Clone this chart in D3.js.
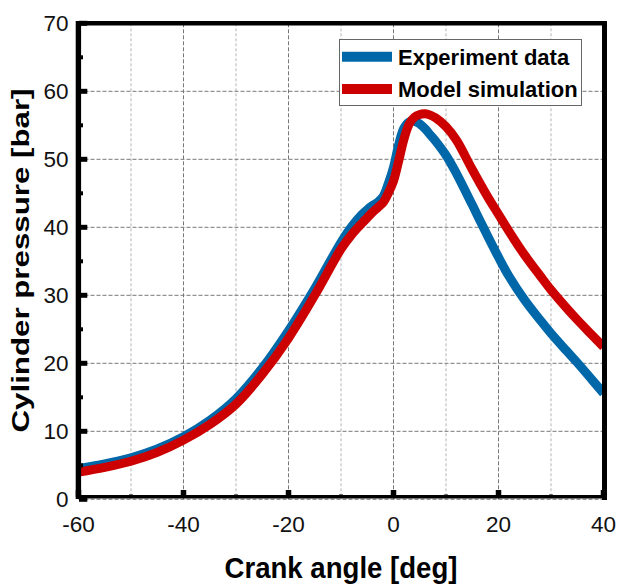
<!DOCTYPE html>
<html>
<head>
<meta charset="utf-8">
<script src="https://cdn.jsdelivr.net/npm/d3@7"></script>
<style>
  body { margin: 0; background: #fff; }
  svg { display: block; font-family: "Liberation Sans", Arial, sans-serif; }
</style>
</head>
<body>
<svg id="chart" width="619" height="584"></svg>
<script>
// crank angle [deg] and pressures [bar]
var crankAngle = [-60, -55, -50, -45, -40, -35, -30, -25, -20, -15, -10, -8, -6, -5, -4, -3, -2, -1,
                  0, 1, 2, 3, 4, 5, 6, 7, 8, 10, 12, 15, 18, 20, 22, 25, 28, 30, 33, 35, 38, 40];
var experimentData = [4.5, 5.2, 6.1, 7.4, 9.2, 11.6, 14.8, 19.3, 24.8, 31.0, 37.8, 40.1, 41.9, 42.6, 43.2, 43.7, 44.5, 46.4,
                      48.8, 52.2, 54.6, 55.5, 55.6, 55.2, 54.5, 53.6, 52.7, 50.6, 47.9, 43.3, 38.6, 35.6, 32.8, 29.3, 26.3, 24.4, 21.8, 20.1, 17.4, 15.6];
var modelSimulation = [4.0, 4.7, 5.6, 6.9, 8.7, 11.0, 14.0, 18.4, 23.7, 30.0, 36.8, 38.9, 40.6, 41.4, 42.2, 42.9, 43.6, 45.0,
                       46.8, 49.8, 53.0, 55.2, 56.2, 56.6, 56.7, 56.5, 56.1, 54.8, 52.8, 48.5, 44.4, 41.9, 39.4, 35.9, 32.8, 30.8, 28.1, 26.4, 24.0, 22.4];

var seriesNames = ["Experiment data", "Model simulation"];
var seriesColors = ["#0067a9", "#cc0000"];

var xMajorTicks = [-60, -40, -20, 0, 20, 40];
var xMinorTicks = [-50, -30, -10, 10, 30];
var yMajorTicks = [0, 10, 20, 30, 40, 50, 60, 70];
var yMinorTicks = [5, 15, 25, 35, 45, 55, 65];

var svg = d3.select("#chart");

var x = d3.scaleLinear().domain([-60, 40]).range([78.5, 603.5]);
var y = d3.scaleLinear().domain([0, 70]).range([499.3, 23.3]);

//grid
var grid = svg.append("g").attr("class", "grid");
grid.selectAll(".vminor")
    .data(xMinorTicks)
    .enter()
    .append("line")
    .attr("x1", function(d){ return x(d); })
    .attr("x2", function(d){ return x(d); })
    .attr("y1", y(70))
    .attr("y2", y(0))
    .attr("stroke", "#b4b4b4")
    .attr("stroke-width", 1)
    .attr("stroke-dasharray", "3,2");
grid.selectAll(".vmajor")
    .data(xMajorTicks.slice(1, -1))
    .enter()
    .append("line")
    .attr("x1", function(d){ return x(d); })
    .attr("x2", function(d){ return x(d); })
    .attr("y1", y(70))
    .attr("y2", y(0))
    .attr("stroke", "#777")
    .attr("stroke-width", 1)
    .attr("stroke-dasharray", "4,2");
grid.selectAll(".hmajor")
    .data(yMajorTicks.slice(0, -1))
    .enter()
    .append("line")
    .attr("x1", x(-60))
    .attr("x2", x(40))
    .attr("y1", function(d){ return y(d); })
    .attr("y2", function(d){ return y(d); })
    .attr("stroke", "#777")
    .attr("stroke-width", 1)
    .attr("stroke-dasharray", "4,2");

//curves
var line = d3.line()
    .x(function(d){ return x(d[0]); })
    .y(function(d){ return y(d[1]); })
    .curve(d3.curveCatmullRom.alpha(0.5));

var series = [experimentData, modelSimulation];
svg.append("g").attr("class", "curves")
    .selectAll("path")
    .data(series)
    .enter()
    .append("path")
    .attr("d", function(s){ return line(d3.zip(crankAngle, s)); })
    .attr("fill", "none")
    .attr("stroke", function(d, i){ return seriesColors[i]; })
    .attr("stroke-width", 9)
    .attr("stroke-linejoin", "round");

//frame
var frame = svg.append("g").attr("class", "frame").attr("stroke", "#000");
frame.append("line").attr("x1", 76).attr("x2", 607).attr("y1", 23.3).attr("y2", 23.3).attr("stroke-width", 4.5);
frame.append("line").attr("x1", 604.5).attr("x2", 604.5).attr("y1", 21).attr("y2", 500).attr("stroke-width", 5);
frame.append("line").attr("x1", 76).attr("x2", 607).attr("y1", 496.7).attr("y2", 496.7).attr("stroke-width", 3.6);
frame.append("line").attr("x1", 78.4).attr("x2", 78.4).attr("y1", 21).attr("y2", 499).attr("stroke-width", 5.4);

//ticks, drawn inward
frame.selectAll(".xtick")
    .data(xMajorTicks)
    .enter()
    .append("line")
    .attr("x1", function(d){ return x(d); })
    .attr("x2", function(d){ return x(d); })
    .attr("y1", 497)
    .attr("y2", 490)
    .attr("stroke-width", 5.5);
frame.selectAll(".xminor")
    .data(xMinorTicks)
    .enter()
    .append("line")
    .attr("x1", function(d){ return x(d); })
    .attr("x2", function(d){ return x(d); })
    .attr("y1", 497)
    .attr("y2", 494.5)
    .attr("stroke-width", 4);
frame.selectAll(".ytick")
    .data(yMajorTicks)
    .enter()
    .append("line")
    .attr("x1", 79)
    .attr("x2", 87.3)
    .attr("y1", function(d){ return y(d); })
    .attr("y2", function(d){ return y(d); })
    .attr("stroke-width", 5);
frame.selectAll(".yminor")
    .data(yMinorTicks)
    .enter()
    .append("line")
    .attr("x1", 79)
    .attr("x2", 83)
    .attr("y1", function(d){ return y(d); })
    .attr("y2", function(d){ return y(d); })
    .attr("stroke-width", 4);

//tick labels
svg.append("g").selectAll("text")
    .data(xMajorTicks)
    .enter()
    .append("text")
    .attr("x", function(d){ return x(d); })
    .attr("y", 532)
    .attr("text-anchor", "middle")
    .attr("font-size", 22.5)
    .attr("fill", "#111")
    .text(function(d){ return d; });
svg.append("g").selectAll("text")
    .data(yMajorTicks)
    .enter()
    .append("text")
    .attr("x", 68.5)
    .attr("y", function(d){ return y(d) + 8; })
    .attr("text-anchor", "end")
    .attr("font-size", 22.5)
    .attr("fill", "#111")
    .text(function(d){ return d; });

//axis titles
svg.append("text")
    .attr("x", 341)
    .attr("y", 578)
    .attr("text-anchor", "middle")
    .attr("font-size", 29)
    .attr("font-weight", "bold")
    .attr("textLength", 233)
    .attr("lengthAdjust", "spacingAndGlyphs")
    .text("Crank angle [deg]");
svg.append("text")
    .attr("transform", "translate(29,260.5) rotate(-90)")
    .attr("text-anchor", "middle")
    .attr("font-size", 23.5)
    .attr("font-weight", "bold")
    .attr("textLength", 344)
    .attr("lengthAdjust", "spacingAndGlyphs")
    .text("Cylinder pressure [bar]");

//legend
var legend = svg.append("g").attr("class", "legend");
legend.append("rect")
    .attr("x", 339.5)
    .attr("y", 39.5)
    .attr("width", 242)
    .attr("height", 66)
    .attr("fill", "#fff")
    .attr("stroke", "#666")
    .attr("stroke-width", 1);
var legendRows = legend.selectAll(".row")
    .data(seriesNames)
    .enter()
    .append("g")
    .attr("transform", function(d, i){ return "translate(0," + (i * 32.3) + ")"; });
legendRows.append("line")
    .attr("x1", 342)
    .attr("x2", 392)
    .attr("y1", 56.7)
    .attr("y2", 56.7)
    .attr("stroke", function(d, i){ return seriesColors[i]; })
    .attr("stroke-width", 10);
legendRows.append("text")
    .attr("x", 398)
    .attr("y", 65)
    .attr("font-size", 22)
    .attr("font-weight", "bold")
    .attr("fill", "#000")
    .text(function(d){ return d; });
</script>
</body>
</html>
